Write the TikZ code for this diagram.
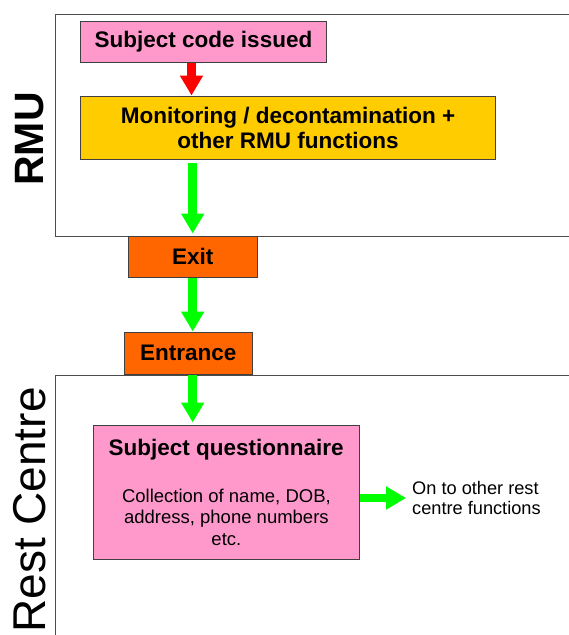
\documentclass[tikz,border=0pt]{standalone}
\usepackage{fontspec}
\setmainfont{Liberation Sans}
\usetikzlibrary{arrows.meta}
\definecolor{boxpink}{HTML}{FF99CC}
\definecolor{boxyellow}{HTML}{FFCC00}
\definecolor{boxorange}{HTML}{FF6600}
\definecolor{flowgreen}{HTML}{00FF00}
\definecolor{flowred}{HTML}{FF0000}
\tikzset{
	stage/.style={draw=black!75, line width=1pt, inner sep=0pt, align=center, font=\fontsize{22.5}{25}\selectfont\bfseries},
	lane/.style={draw=black!70, line width=1pt},
	lanelabel/.style={rotate=90, inner sep=0pt},
	flow/.style={draw=flowgreen, line width=9pt, -{Triangle[width=22pt,length=20pt]}},
	smalltext/.style={inner sep=0pt, font=\fontsize{18.5}{21.5}\selectfont}
}
\begin{document}
\begin{tikzpicture}[x=1pt, y=-1pt]
				\useasboundingbox (0,0) rectangle (569,635);
				\clip (0,0) rectangle (569,635);
				%lanes
				\draw[lane] (55.5,14) rectangle (600,236);
				\draw[lane] (55.5,375) rectangle (600,660);
				\node[lanelabel, font=\fontsize{41}{41}\selectfont\bfseries] (rmu) at (30,139){RMU};
				\node[lanelabel, font=\fontsize{46}{46}\selectfont] (rest) at (29.5,510){Rest Centre};
				
				%boxes
				\node[stage, fill=boxpink, minimum width=246pt, minimum height=41pt] (code) at (203.5,41.5){Subject code issued};
				\node[stage, fill=boxyellow, minimum width=415pt, minimum height=63pt] (monitor) at (288,127.5){Monitoring / decontamination +\\other RMU functions};
				\node[stage, fill=boxorange, minimum width=128.6pt, minimum height=41pt] (exit) at (192.7,256.5){Exit};
				\node[stage, fill=boxorange, minimum width=128.5pt, minimum height=42pt] (entrance) at (188.3,353){Entrance};
				\node[stage, fill=boxpink, minimum width=266pt, minimum height=134pt] (quest) at (226.2,492){};
				\node[inner sep=0pt, font=\fontsize{22.5}{25}\selectfont\bfseries] (questtitle) at (226.2,450){Subject questionnaire};
				\node[smalltext, align=center] (questbody) at (226.4,517){Collection of name, DOB,\\address, phone numbers\\etc.};
				\node[smalltext, align=left, anchor=west, font=\fontsize{18.2}{20.5}\selectfont] (onto) at (412,498){On to other rest\\centre functions};
				
				%arrows
				\draw[flow, draw=flowred] ([xshift=-12pt]code.south) -- ([xshift=-12pt]code.south |- monitor.north);
				\draw[flow, shorten <=3pt, shorten >=2pt] (exit.north |- monitor.south) -- (exit.north);
				\draw[flow] (exit.south) -- (exit.south |- entrance.north);
				\draw[flow, shorten >=2pt] (exit.south |- entrance.south) -- (exit.south |- quest.north);
				\draw[flow, line width=8pt, shorten >=6pt] (quest.east |- onto.west) -- (onto.west);
			\end{tikzpicture}
\end{document}
